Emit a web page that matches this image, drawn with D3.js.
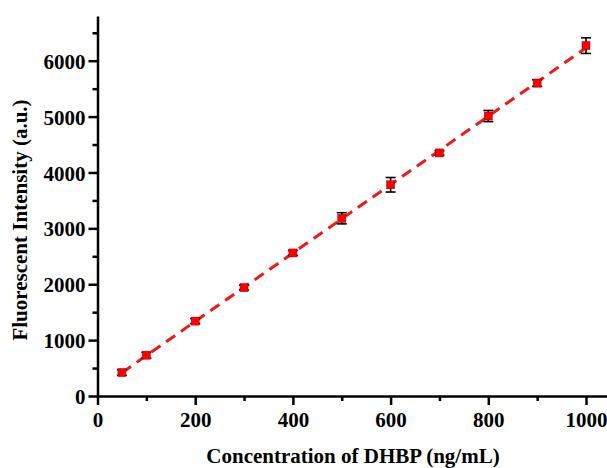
<!DOCTYPE html>
<html>
<head>
<meta charset="utf-8">
<script src="https://cdn.jsdelivr.net/npm/d3@7"></script>
<style>
  body { margin: 0; background: #fff; }
  svg { display: block; overflow: hidden; }
  .tick text { font-family: "Liberation Serif", "Times New Roman", serif; font-weight: bold; font-size: 21px; fill: #000; }
  .title { font-family: "Liberation Serif", "Times New Roman", serif; font-weight: bold; font-size: 21px; fill: #000; }
</style>
</head>
<body>
<div id="chart"></div>
<script>
// 浓度 (ng/mL)
const conc = [50, 100, 200, 300, 400, 500, 600, 700, 800, 900, 1000];
// 荧光强度
const intensity = [420, 730, 1340, 1940, 2560, 3180, 3780, 4350, 5010, 5600, 6270];
// 误差
const errors = [50, 50, 45, 45, 45, 100, 130, 40, 100, 60, 140];
const xTicks = [0, 200, 400, 600, 800, 1000];
const yTicks = [0, 1000, 2000, 3000, 4000, 5000, 6000];

const width = 607, height = 468;
const margin = { left: 97.5, top: 16, bottom: 72 };

const svg = d3.select("#chart").append("svg")
  .attr("width", width)
  .attr("height", height);

const x = d3.scaleLinear().domain([0, 1050]).range([margin.left, margin.left + 1050 * 0.4885]);
const y = d3.scaleLinear().domain([0, 6800]).range([height - margin.bottom, margin.top]);
const fmt = d3.format("d");

// 次刻度
const xMinor = d3.range(100, 1100, 200);
const yMinor = d3.range(500, 7000, 1000);

const gx = svg.append("g").attr("transform", `translate(0,${y(0)})`);
gx.call(d3.axisBottom(x).tickValues(xMinor).tickSize(5).tickFormat(""));
gx.call(g => g.selectAll(".domain").remove());
const gx2 = svg.append("g").attr("transform", `translate(0,${y(0)})`);
gx2.call(d3.axisBottom(x).tickValues(xTicks).tickSize(9).tickPadding(7).tickSizeOuter(0).tickFormat(fmt));

const gy = svg.append("g").attr("transform", `translate(${x(0)},0)`);
gy.call(d3.axisLeft(y).tickValues(yMinor).tickSize(5).tickFormat(""));
gy.call(g => g.selectAll(".domain").remove());
const gy2 = svg.append("g").attr("transform", `translate(${x(0)},0)`);
gy2.call(d3.axisLeft(y).tickValues(yTicks).tickSize(9).tickPadding(3).tickSizeOuter(0).tickFormat(fmt));

svg.selectAll(".domain").attr("stroke", "#000").attr("stroke-width", 2.5);
svg.selectAll(".tick line").attr("stroke", "#000").attr("stroke-width", 2.5);
gy2.selectAll(".tick text").attr("dy", "0.36em");

// 线性拟合
const n = conc.length;
const mx = d3.mean(conc), my = d3.mean(intensity);
const slope = d3.sum(conc, (d, i) => (d - mx) * (intensity[i] - my)) / d3.sum(conc, d => (d - mx) * (d - mx));
const icpt = my - slope * mx;
const fitX = [conc[0], conc[n - 1]];

svg.append("path")
  .datum(fitX)
  .attr("fill", "none")
  .attr("stroke", "#f01818")
  .attr("stroke-width", 3)
  .attr("stroke-dasharray", "11,7")
  .attr("d", d3.line().x(d => x(d)).y(d => y(slope * d + icpt)));

// 误差棒
const bars = svg.append("g").attr("stroke", "#000").attr("stroke-width", 1.6);
conc.forEach((c, i) => {
  const cx = x(c), y1 = y(intensity[i] + errors[i]), y2 = y(intensity[i] - errors[i]);
  bars.append("line").attr("x1", cx).attr("x2", cx).attr("y1", y1).attr("y2", y2);
  bars.append("line").attr("x1", cx - 5).attr("x2", cx + 5).attr("y1", y1).attr("y2", y1);
  bars.append("line").attr("x1", cx - 5).attr("x2", cx + 5).attr("y1", y2).attr("y2", y2);
});

svg.append("g").selectAll("rect")
  .data(conc)
  .join("rect")
  .attr("x", d => x(d) - 4)
  .attr("y", (d, i) => y(intensity[i]) - 4)
  .attr("width", 8)
  .attr("height", 8)
  .attr("fill", "#ff0000")
  .attr("stroke", "#900")
  .attr("stroke-width", 0.5);

// 标题
svg.append("text").attr("class", "title")
  .attr("x", 353).attr("y", 463)
  .attr("text-anchor", "middle")
  .text("Concentration of DHBP (ng/mL)");
svg.append("text").attr("class", "title")
  .attr("transform", `translate(27,220) rotate(-90)`)
  .attr("text-anchor", "middle")
  .text("Fluorescent Intensity (a.u.)");
</script>
</body>
</html>
